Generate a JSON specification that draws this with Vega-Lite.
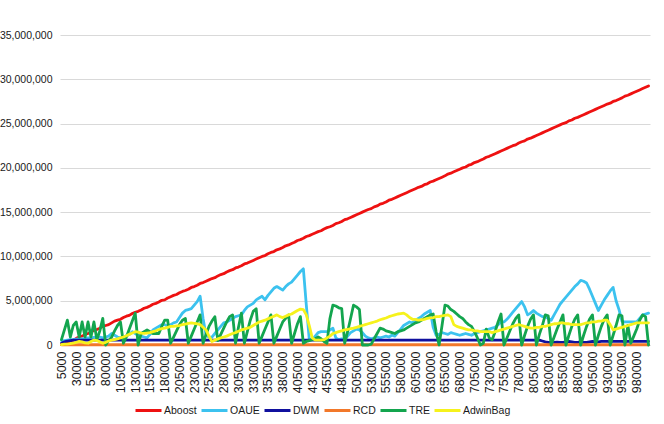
{
  "$schema": "https://vega.github.io/schema/vega-lite/v6.json",
  "width": 590,
  "height": 310,
  "autosize": {"type": "none"},
  "padding": {"left": 60, "top": 35, "right": 14, "bottom": 79},
  "background": "white",
  "config": {
    "view": {"stroke": null},
    "font": "Liberation Sans"
  },
  "data": {
    "values": [
      {"n":5000,"Aboost":0.05,"OAUE":0.5,"DWM":0.2,"RCD":0.03,"TRE":0.6,"AdwinBag":0.05},
      {"n":10000,"Aboost":0.2,"OAUE":0.5,"DWM":0.35,"RCD":0.03,"TRE":1.7,"AdwinBag":0.1},
      {"n":15000,"Aboost":0.3,"OAUE":0.55,"DWM":0.45,"RCD":0.03,"TRE":2.8,"AdwinBag":0.1},
      {"n":20000,"Aboost":0.45,"OAUE":0.6,"DWM":0.5,"RCD":0.03,"TRE":0.9,"AdwinBag":0.15},
      {"n":25000,"Aboost":0.55,"OAUE":0.6,"DWM":0.55,"RCD":0.03,"TRE":2.2,"AdwinBag":0.2},
      {"n":30000,"Aboost":0.75,"OAUE":0.65,"DWM":0.55,"RCD":0.03,"TRE":2.6,"AdwinBag":0.3},
      {"n":35000,"Aboost":0.9,"OAUE":0.7,"DWM":0.55,"RCD":0.03,"TRE":0.9,"AdwinBag":0.4},
      {"n":40000,"Aboost":1.0,"OAUE":0.7,"DWM":0.55,"RCD":0.03,"TRE":2.6,"AdwinBag":0.35},
      {"n":45000,"Aboost":1.2,"OAUE":0.75,"DWM":0.55,"RCD":0.03,"TRE":0.9,"AdwinBag":0.25},
      {"n":50000,"Aboost":1.3,"OAUE":0.8,"DWM":0.55,"RCD":0.03,"TRE":2.6,"AdwinBag":0.2},
      {"n":55000,"Aboost":1.45,"OAUE":0.8,"DWM":0.55,"RCD":0.03,"TRE":0.9,"AdwinBag":0.4},
      {"n":60000,"Aboost":1.65,"OAUE":0.85,"DWM":0.55,"RCD":0.03,"TRE":2.6,"AdwinBag":0.55},
      {"n":65000,"Aboost":1.75,"OAUE":0.9,"DWM":0.55,"RCD":0.03,"TRE":0.6,"AdwinBag":0.5},
      {"n":70000,"Aboost":1.9,"OAUE":0.9,"DWM":0.55,"RCD":0.03,"TRE":1.6,"AdwinBag":0.35},
      {"n":75000,"Aboost":2.1,"OAUE":0.8,"DWM":0.55,"RCD":0.03,"TRE":3.0,"AdwinBag":0.2},
      {"n":80000,"Aboost":2.2,"OAUE":0.9,"DWM":0.55,"RCD":0.03,"TRE":0,"AdwinBag":0.3},
      {"n":85000,"Aboost":2.3,"OAUE":1.0,"DWM":0.55,"RCD":0.03,"TRE":0.5,"AdwinBag":0.45},
      {"n":90000,"Aboost":2.5,"OAUE":1.3,"DWM":0.55,"RCD":0.03,"TRE":0.9,"AdwinBag":0.55},
      {"n":95000,"Aboost":2.7,"OAUE":1.1,"DWM":0.55,"RCD":0.03,"TRE":1.6,"AdwinBag":0.6},
      {"n":100000,"Aboost":2.8,"OAUE":0.9,"DWM":0.55,"RCD":0.03,"TRE":2.2,"AdwinBag":0.7},
      {"n":105000,"Aboost":2.9,"OAUE":0.8,"DWM":0.55,"RCD":0.03,"TRE":2.6,"AdwinBag":0.8},
      {"n":110000,"Aboost":3.1,"OAUE":0.9,"DWM":0.55,"RCD":0.03,"TRE":0.2,"AdwinBag":0.9},
      {"n":115000,"Aboost":3.25,"OAUE":1.0,"DWM":0.55,"RCD":0.03,"TRE":0.9,"AdwinBag":1.05},
      {"n":120000,"Aboost":3.35,"OAUE":1.2,"DWM":0.55,"RCD":0.03,"TRE":1.8,"AdwinBag":1.2},
      {"n":125000,"Aboost":3.55,"OAUE":1.5,"DWM":0.55,"RCD":0.03,"TRE":2.7,"AdwinBag":1.35},
      {"n":130000,"Aboost":3.7,"OAUE":1.3,"DWM":0.55,"RCD":0.03,"TRE":3.6,"AdwinBag":1.5},
      {"n":135000,"Aboost":3.8,"OAUE":1.1,"DWM":0.55,"RCD":0.03,"TRE":0,"AdwinBag":1.45},
      {"n":140000,"Aboost":3.95,"OAUE":1.0,"DWM":0.55,"RCD":0.03,"TRE":1.3,"AdwinBag":1.35},
      {"n":145000,"Aboost":4.15,"OAUE":0.9,"DWM":0.55,"RCD":0.03,"TRE":1.5,"AdwinBag":1.3},
      {"n":150000,"Aboost":4.25,"OAUE":0.8,"DWM":0.55,"RCD":0.03,"TRE":1.7,"AdwinBag":1.35},
      {"n":155000,"Aboost":4.4,"OAUE":1.2,"DWM":0.55,"RCD":0.03,"TRE":1.5,"AdwinBag":1.4},
      {"n":160000,"Aboost":4.6,"OAUE":1.7,"DWM":0.55,"RCD":0.03,"TRE":1.3,"AdwinBag":1.5},
      {"n":165000,"Aboost":4.7,"OAUE":1.9,"DWM":0.55,"RCD":0.03,"TRE":1.3,"AdwinBag":1.6},
      {"n":170000,"Aboost":4.85,"OAUE":2.1,"DWM":0.55,"RCD":0.03,"TRE":1.3,"AdwinBag":1.75},
      {"n":175000,"Aboost":5.05,"OAUE":2.3,"DWM":0.55,"RCD":0.03,"TRE":2.1,"AdwinBag":1.85},
      {"n":180000,"Aboost":5.1,"OAUE":2.3,"DWM":0.55,"RCD":0.03,"TRE":2.8,"AdwinBag":1.9},
      {"n":185000,"Aboost":5.3,"OAUE":2.1,"DWM":0.55,"RCD":0.03,"TRE":2.8,"AdwinBag":2.0},
      {"n":190000,"Aboost":5.45,"OAUE":2.3,"DWM":0.55,"RCD":0.03,"TRE":0.2,"AdwinBag":2.1},
      {"n":195000,"Aboost":5.6,"OAUE":2.5,"DWM":0.55,"RCD":0.03,"TRE":0.9,"AdwinBag":2.1},
      {"n":200000,"Aboost":5.7,"OAUE":2.6,"DWM":0.55,"RCD":0.03,"TRE":1.6,"AdwinBag":2.15},
      {"n":205000,"Aboost":5.9,"OAUE":3.1,"DWM":0.55,"RCD":0.03,"TRE":2.3,"AdwinBag":2.2},
      {"n":210000,"Aboost":6.05,"OAUE":3.6,"DWM":0.55,"RCD":0.03,"TRE":2.8,"AdwinBag":2.3},
      {"n":215000,"Aboost":6.15,"OAUE":3.9,"DWM":0.55,"RCD":0.03,"TRE":3.0,"AdwinBag":2.35},
      {"n":220000,"Aboost":6.3,"OAUE":4.0,"DWM":0.55,"RCD":0.03,"TRE":0.2,"AdwinBag":2.45},
      {"n":225000,"Aboost":6.5,"OAUE":4.1,"DWM":0.55,"RCD":0.03,"TRE":1.0,"AdwinBag":2.5},
      {"n":230000,"Aboost":6.6,"OAUE":4.5,"DWM":0.55,"RCD":0.03,"TRE":1.8,"AdwinBag":2.45},
      {"n":235000,"Aboost":6.75,"OAUE":4.9,"DWM":0.55,"RCD":0.03,"TRE":2.6,"AdwinBag":2.4},
      {"n":240000,"Aboost":6.95,"OAUE":5.5,"DWM":0.55,"RCD":0.03,"TRE":3.4,"AdwinBag":2.3},
      {"n":245000,"Aboost":7.05,"OAUE":3.0,"DWM":0.55,"RCD":0.03,"TRE":0.2,"AdwinBag":2.0},
      {"n":250000,"Aboost":7.2,"OAUE":1.1,"DWM":0.55,"RCD":0.03,"TRE":1.2,"AdwinBag":1.7},
      {"n":255000,"Aboost":7.35,"OAUE":0.9,"DWM":0.55,"RCD":0.03,"TRE":2.1,"AdwinBag":1.0},
      {"n":260000,"Aboost":7.5,"OAUE":0.9,"DWM":0.55,"RCD":0.03,"TRE":2.7,"AdwinBag":0.4},
      {"n":265000,"Aboost":7.6,"OAUE":1.3,"DWM":0.55,"RCD":0.03,"TRE":3.2,"AdwinBag":0.55},
      {"n":270000,"Aboost":7.8,"OAUE":1.7,"DWM":0.55,"RCD":0.03,"TRE":0.5,"AdwinBag":0.7},
      {"n":275000,"Aboost":7.95,"OAUE":2.1,"DWM":0.55,"RCD":0.03,"TRE":1.2,"AdwinBag":0.8},
      {"n":280000,"Aboost":8.05,"OAUE":2.5,"DWM":0.55,"RCD":0.03,"TRE":1.9,"AdwinBag":0.9},
      {"n":285000,"Aboost":8.25,"OAUE":2.6,"DWM":0.55,"RCD":0.03,"TRE":2.6,"AdwinBag":1.0},
      {"n":290000,"Aboost":8.4,"OAUE":2.8,"DWM":0.55,"RCD":0.03,"TRE":3.2,"AdwinBag":1.15},
      {"n":295000,"Aboost":8.5,"OAUE":3.0,"DWM":0.55,"RCD":0.03,"TRE":3.4,"AdwinBag":1.3},
      {"n":300000,"Aboost":8.7,"OAUE":3.2,"DWM":0.55,"RCD":0.03,"TRE":0.2,"AdwinBag":1.4},
      {"n":305000,"Aboost":8.8,"OAUE":3.3,"DWM":0.55,"RCD":0.03,"TRE":2.0,"AdwinBag":1.55},
      {"n":310000,"Aboost":8.95,"OAUE":3.4,"DWM":0.55,"RCD":0.03,"TRE":3.6,"AdwinBag":1.7},
      {"n":315000,"Aboost":9.15,"OAUE":3.9,"DWM":0.55,"RCD":0.03,"TRE":0.2,"AdwinBag":1.8},
      {"n":320000,"Aboost":9.25,"OAUE":4.3,"DWM":0.55,"RCD":0.03,"TRE":1.5,"AdwinBag":1.9},
      {"n":325000,"Aboost":9.4,"OAUE":4.5,"DWM":0.55,"RCD":0.03,"TRE":2.8,"AdwinBag":2.0},
      {"n":330000,"Aboost":9.55,"OAUE":4.7,"DWM":0.55,"RCD":0.03,"TRE":3.8,"AdwinBag":2.2},
      {"n":335000,"Aboost":9.7,"OAUE":5.1,"DWM":0.55,"RCD":0.03,"TRE":4.1,"AdwinBag":2.4},
      {"n":340000,"Aboost":9.85,"OAUE":5.3,"DWM":0.55,"RCD":0.03,"TRE":0.2,"AdwinBag":2.6},
      {"n":345000,"Aboost":10.0,"OAUE":5.5,"DWM":0.55,"RCD":0.03,"TRE":1.0,"AdwinBag":2.7},
      {"n":350000,"Aboost":10.1,"OAUE":5.1,"DWM":0.55,"RCD":0.03,"TRE":1.8,"AdwinBag":2.8},
      {"n":355000,"Aboost":10.3,"OAUE":5.6,"DWM":0.55,"RCD":0.03,"TRE":2.6,"AdwinBag":2.95},
      {"n":360000,"Aboost":10.45,"OAUE":6.0,"DWM":0.55,"RCD":0.03,"TRE":3.4,"AdwinBag":3.1},
      {"n":365000,"Aboost":10.55,"OAUE":6.4,"DWM":0.55,"RCD":0.03,"TRE":0.2,"AdwinBag":3.25},
      {"n":370000,"Aboost":10.75,"OAUE":6.6,"DWM":0.55,"RCD":0.03,"TRE":1.0,"AdwinBag":3.4},
      {"n":375000,"Aboost":10.85,"OAUE":6.4,"DWM":0.55,"RCD":0.03,"TRE":1.8,"AdwinBag":3.2},
      {"n":380000,"Aboost":11.0,"OAUE":6.2,"DWM":0.55,"RCD":0.03,"TRE":2.6,"AdwinBag":3.1},
      {"n":385000,"Aboost":11.2,"OAUE":6.6,"DWM":0.55,"RCD":0.03,"TRE":3.0,"AdwinBag":3.25},
      {"n":390000,"Aboost":11.3,"OAUE":6.9,"DWM":0.55,"RCD":0.03,"TRE":3.4,"AdwinBag":3.4},
      {"n":395000,"Aboost":11.45,"OAUE":7.1,"DWM":0.55,"RCD":0.03,"TRE":0.2,"AdwinBag":3.5},
      {"n":400000,"Aboost":11.6,"OAUE":7.5,"DWM":0.55,"RCD":0.03,"TRE":1.3,"AdwinBag":3.7},
      {"n":405000,"Aboost":11.8,"OAUE":7.9,"DWM":0.55,"RCD":0.03,"TRE":2.4,"AdwinBag":3.9},
      {"n":410000,"Aboost":11.9,"OAUE":8.3,"DWM":0.55,"RCD":0.03,"TRE":3.2,"AdwinBag":4.05},
      {"n":415000,"Aboost":12.05,"OAUE":8.6,"DWM":0.55,"RCD":0.03,"TRE":0.2,"AdwinBag":4.0},
      {"n":420000,"Aboost":12.25,"OAUE":4.5,"DWM":0.55,"RCD":0.03,"TRE":0.4,"AdwinBag":3.4},
      {"n":425000,"Aboost":12.35,"OAUE":0.6,"DWM":0.55,"RCD":0.03,"TRE":0.5,"AdwinBag":2.2},
      {"n":430000,"Aboost":12.5,"OAUE":0.6,"DWM":0.55,"RCD":0.03,"TRE":0.6,"AdwinBag":0.8},
      {"n":435000,"Aboost":12.65,"OAUE":1.0,"DWM":0.55,"RCD":0.03,"TRE":0.7,"AdwinBag":0.56},
      {"n":440000,"Aboost":12.8,"OAUE":1.4,"DWM":0.55,"RCD":0.03,"TRE":0.9,"AdwinBag":0.55},
      {"n":445000,"Aboost":12.9,"OAUE":1.5,"DWM":0.55,"RCD":0.03,"TRE":0.7,"AdwinBag":0.55},
      {"n":450000,"Aboost":13.1,"OAUE":1.5,"DWM":0.55,"RCD":0.03,"TRE":0.4,"AdwinBag":0.6},
      {"n":455000,"Aboost":13.25,"OAUE":1.5,"DWM":0.55,"RCD":0.03,"TRE":0.2,"AdwinBag":0.8},
      {"n":460000,"Aboost":13.35,"OAUE":1.7,"DWM":0.55,"RCD":0.03,"TRE":3.0,"AdwinBag":1.0},
      {"n":465000,"Aboost":13.5,"OAUE":1.9,"DWM":0.55,"RCD":0.03,"TRE":4.5,"AdwinBag":1.3},
      {"n":470000,"Aboost":13.7,"OAUE":0.8,"DWM":0.55,"RCD":0.03,"TRE":4.4,"AdwinBag":1.4},
      {"n":475000,"Aboost":13.8,"OAUE":0.6,"DWM":0.55,"RCD":0.03,"TRE":4.2,"AdwinBag":1.5},
      {"n":480000,"Aboost":13.95,"OAUE":0.7,"DWM":0.55,"RCD":0.03,"TRE":4.1,"AdwinBag":1.6},
      {"n":485000,"Aboost":14.15,"OAUE":0.6,"DWM":0.55,"RCD":0.03,"TRE":0.2,"AdwinBag":1.7},
      {"n":490000,"Aboost":14.25,"OAUE":1.0,"DWM":0.55,"RCD":0.03,"TRE":1.5,"AdwinBag":1.75},
      {"n":495000,"Aboost":14.4,"OAUE":1.4,"DWM":0.55,"RCD":0.03,"TRE":3.0,"AdwinBag":1.85},
      {"n":500000,"Aboost":14.55,"OAUE":1.6,"DWM":0.55,"RCD":0.03,"TRE":4.5,"AdwinBag":1.9},
      {"n":505000,"Aboost":14.7,"OAUE":1.8,"DWM":0.55,"RCD":0.03,"TRE":4.3,"AdwinBag":2.0},
      {"n":510000,"Aboost":14.85,"OAUE":1.7,"DWM":0.55,"RCD":0.03,"TRE":4.0,"AdwinBag":2.1},
      {"n":515000,"Aboost":15.0,"OAUE":1.4,"DWM":0.55,"RCD":0.03,"TRE":0,"AdwinBag":2.2},
      {"n":520000,"Aboost":15.15,"OAUE":1.0,"DWM":0.55,"RCD":0.03,"TRE":0,"AdwinBag":2.3},
      {"n":525000,"Aboost":15.3,"OAUE":0.8,"DWM":0.55,"RCD":0.03,"TRE":0,"AdwinBag":2.4},
      {"n":530000,"Aboost":15.4,"OAUE":0.7,"DWM":0.55,"RCD":0.03,"TRE":0.1,"AdwinBag":2.5},
      {"n":535000,"Aboost":15.6,"OAUE":0.8,"DWM":0.55,"RCD":0.03,"TRE":0.7,"AdwinBag":2.6},
      {"n":540000,"Aboost":15.7,"OAUE":0.9,"DWM":0.55,"RCD":0.03,"TRE":1.3,"AdwinBag":2.7},
      {"n":545000,"Aboost":15.9,"OAUE":0.8,"DWM":0.55,"RCD":0.03,"TRE":1.9,"AdwinBag":2.85},
      {"n":550000,"Aboost":16.0,"OAUE":0.9,"DWM":0.55,"RCD":0.03,"TRE":1.8,"AdwinBag":2.95},
      {"n":555000,"Aboost":16.15,"OAUE":1.0,"DWM":0.55,"RCD":0.03,"TRE":1.6,"AdwinBag":3.05},
      {"n":560000,"Aboost":16.35,"OAUE":0.9,"DWM":0.55,"RCD":0.03,"TRE":1.5,"AdwinBag":3.2},
      {"n":565000,"Aboost":16.45,"OAUE":1.1,"DWM":0.55,"RCD":0.03,"TRE":1.4,"AdwinBag":3.3},
      {"n":570000,"Aboost":16.6,"OAUE":1.0,"DWM":0.55,"RCD":0.03,"TRE":1.3,"AdwinBag":3.4},
      {"n":575000,"Aboost":16.75,"OAUE":1.4,"DWM":0.55,"RCD":0.03,"TRE":1.5,"AdwinBag":3.5},
      {"n":580000,"Aboost":16.9,"OAUE":1.8,"DWM":0.55,"RCD":0.03,"TRE":1.6,"AdwinBag":3.55},
      {"n":585000,"Aboost":17.05,"OAUE":2.2,"DWM":0.55,"RCD":0.03,"TRE":1.7,"AdwinBag":3.6},
      {"n":590000,"Aboost":17.2,"OAUE":2.4,"DWM":0.55,"RCD":0.03,"TRE":1.9,"AdwinBag":3.4},
      {"n":595000,"Aboost":17.35,"OAUE":2.6,"DWM":0.55,"RCD":0.03,"TRE":2.1,"AdwinBag":3.1},
      {"n":600000,"Aboost":17.5,"OAUE":2.5,"DWM":0.55,"RCD":0.03,"TRE":2.3,"AdwinBag":2.9},
      {"n":605000,"Aboost":17.65,"OAUE":2.8,"DWM":0.55,"RCD":0.03,"TRE":2.5,"AdwinBag":2.9},
      {"n":610000,"Aboost":17.8,"OAUE":3.0,"DWM":0.55,"RCD":0.03,"TRE":2.6,"AdwinBag":2.8},
      {"n":615000,"Aboost":17.9,"OAUE":3.2,"DWM":0.55,"RCD":0.03,"TRE":2.8,"AdwinBag":2.85},
      {"n":620000,"Aboost":18.1,"OAUE":3.5,"DWM":0.55,"RCD":0.03,"TRE":3.0,"AdwinBag":2.9},
      {"n":625000,"Aboost":18.2,"OAUE":3.7,"DWM":0.55,"RCD":0.03,"TRE":3.2,"AdwinBag":3.0},
      {"n":630000,"Aboost":18.4,"OAUE":3.9,"DWM":0.55,"RCD":0.03,"TRE":3.4,"AdwinBag":3.05},
      {"n":635000,"Aboost":18.5,"OAUE":2.0,"DWM":0.55,"RCD":0.03,"TRE":3.5,"AdwinBag":3.1},
      {"n":640000,"Aboost":18.65,"OAUE":1.1,"DWM":0.55,"RCD":0.03,"TRE":1.5,"AdwinBag":3.2},
      {"n":645000,"Aboost":18.8,"OAUE":1.2,"DWM":0.55,"RCD":0.03,"TRE":0,"AdwinBag":3.2},
      {"n":650000,"Aboost":18.95,"OAUE":1.4,"DWM":0.55,"RCD":0.03,"TRE":2.2,"AdwinBag":3.3},
      {"n":655000,"Aboost":19.1,"OAUE":1.3,"DWM":0.55,"RCD":0.03,"TRE":4.5,"AdwinBag":3.35},
      {"n":660000,"Aboost":19.3,"OAUE":1.2,"DWM":0.55,"RCD":0.03,"TRE":4.4,"AdwinBag":3.4},
      {"n":665000,"Aboost":19.4,"OAUE":1.4,"DWM":0.55,"RCD":0.03,"TRE":4.0,"AdwinBag":3.2},
      {"n":670000,"Aboost":19.55,"OAUE":1.3,"DWM":0.55,"RCD":0.03,"TRE":3.8,"AdwinBag":2.3},
      {"n":675000,"Aboost":19.7,"OAUE":1.2,"DWM":0.55,"RCD":0.03,"TRE":3.5,"AdwinBag":2.1},
      {"n":680000,"Aboost":19.85,"OAUE":1.1,"DWM":0.55,"RCD":0.03,"TRE":3.2,"AdwinBag":2.0},
      {"n":685000,"Aboost":20.0,"OAUE":1.2,"DWM":0.55,"RCD":0.03,"TRE":3.0,"AdwinBag":1.9},
      {"n":690000,"Aboost":20.1,"OAUE":1.3,"DWM":0.55,"RCD":0.03,"TRE":2.6,"AdwinBag":1.8},
      {"n":695000,"Aboost":20.3,"OAUE":1.2,"DWM":0.55,"RCD":0.03,"TRE":2.3,"AdwinBag":1.7},
      {"n":700000,"Aboost":20.4,"OAUE":1.1,"DWM":0.55,"RCD":0.03,"TRE":2.1,"AdwinBag":1.7},
      {"n":705000,"Aboost":20.6,"OAUE":1.3,"DWM":0.55,"RCD":0.03,"TRE":1.5,"AdwinBag":1.6},
      {"n":710000,"Aboost":20.7,"OAUE":1.4,"DWM":0.55,"RCD":0.03,"TRE":0.8,"AdwinBag":1.6},
      {"n":715000,"Aboost":20.85,"OAUE":1.5,"DWM":0.55,"RCD":0.03,"TRE":0,"AdwinBag":1.5},
      {"n":720000,"Aboost":21.0,"OAUE":1.6,"DWM":0.55,"RCD":0.03,"TRE":0.2,"AdwinBag":1.5},
      {"n":725000,"Aboost":21.2,"OAUE":1.7,"DWM":0.55,"RCD":0.03,"TRE":1.8,"AdwinBag":1.5},
      {"n":730000,"Aboost":21.3,"OAUE":1.8,"DWM":0.55,"RCD":0.03,"TRE":0.8,"AdwinBag":1.5},
      {"n":735000,"Aboost":21.45,"OAUE":1.9,"DWM":0.55,"RCD":0.03,"TRE":0.6,"AdwinBag":1.4},
      {"n":740000,"Aboost":21.6,"OAUE":2.0,"DWM":0.55,"RCD":0.03,"TRE":1.5,"AdwinBag":1.5},
      {"n":745000,"Aboost":21.75,"OAUE":2.3,"DWM":0.55,"RCD":0.03,"TRE":2.6,"AdwinBag":1.6},
      {"n":750000,"Aboost":21.9,"OAUE":2.6,"DWM":0.55,"RCD":0.03,"TRE":3.5,"AdwinBag":1.7},
      {"n":755000,"Aboost":22.05,"OAUE":2.6,"DWM":0.55,"RCD":0.03,"TRE":0,"AdwinBag":1.8},
      {"n":760000,"Aboost":22.2,"OAUE":2.9,"DWM":0.55,"RCD":0.03,"TRE":0.8,"AdwinBag":1.9},
      {"n":765000,"Aboost":22.35,"OAUE":3.3,"DWM":0.55,"RCD":0.03,"TRE":1.6,"AdwinBag":2.0},
      {"n":770000,"Aboost":22.5,"OAUE":3.7,"DWM":0.55,"RCD":0.03,"TRE":2.4,"AdwinBag":2.1},
      {"n":775000,"Aboost":22.6,"OAUE":4.1,"DWM":0.55,"RCD":0.03,"TRE":3.0,"AdwinBag":2.2},
      {"n":780000,"Aboost":22.8,"OAUE":4.5,"DWM":0.55,"RCD":0.03,"TRE":3.4,"AdwinBag":2.3},
      {"n":785000,"Aboost":22.95,"OAUE":4.9,"DWM":0.55,"RCD":0.03,"TRE":0,"AdwinBag":2.2},
      {"n":790000,"Aboost":23.05,"OAUE":4.3,"DWM":0.55,"RCD":0.03,"TRE":1.1,"AdwinBag":2.1},
      {"n":795000,"Aboost":23.25,"OAUE":3.4,"DWM":0.55,"RCD":0.03,"TRE":2.1,"AdwinBag":2.0},
      {"n":800000,"Aboost":23.35,"OAUE":3.6,"DWM":0.55,"RCD":0.03,"TRE":2.9,"AdwinBag":1.9},
      {"n":805000,"Aboost":23.5,"OAUE":3.9,"DWM":0.55,"RCD":0.03,"TRE":3.4,"AdwinBag":1.9},
      {"n":810000,"Aboost":23.65,"OAUE":3.6,"DWM":0.55,"RCD":0.03,"TRE":0,"AdwinBag":2.0},
      {"n":815000,"Aboost":23.8,"OAUE":3.4,"DWM":0.55,"RCD":0.03,"TRE":1.2,"AdwinBag":2.0},
      {"n":820000,"Aboost":23.95,"OAUE":3.2,"DWM":0.45,"RCD":0.03,"TRE":2.2,"AdwinBag":2.1},
      {"n":825000,"Aboost":24.1,"OAUE":3.2,"DWM":0.35,"RCD":0.03,"TRE":3.4,"AdwinBag":2.1},
      {"n":830000,"Aboost":24.25,"OAUE":3.0,"DWM":0.3,"RCD":0.03,"TRE":3.3,"AdwinBag":2.2},
      {"n":835000,"Aboost":24.4,"OAUE":2.8,"DWM":0.3,"RCD":0.03,"TRE":0,"AdwinBag":2.3},
      {"n":840000,"Aboost":24.55,"OAUE":3.4,"DWM":0.3,"RCD":0.03,"TRE":0.9,"AdwinBag":2.4},
      {"n":845000,"Aboost":24.7,"OAUE":4.0,"DWM":0.32,"RCD":0.03,"TRE":1.8,"AdwinBag":2.4},
      {"n":850000,"Aboost":24.85,"OAUE":4.6,"DWM":0.3,"RCD":0.03,"TRE":2.6,"AdwinBag":2.5},
      {"n":855000,"Aboost":25.0,"OAUE":5.0,"DWM":0.3,"RCD":0.03,"TRE":3.4,"AdwinBag":2.5},
      {"n":860000,"Aboost":25.1,"OAUE":5.4,"DWM":0.35,"RCD":0.03,"TRE":0,"AdwinBag":2.4},
      {"n":865000,"Aboost":25.3,"OAUE":5.8,"DWM":0.4,"RCD":0.03,"TRE":1.1,"AdwinBag":2.4},
      {"n":870000,"Aboost":25.4,"OAUE":6.2,"DWM":0.35,"RCD":0.03,"TRE":2.1,"AdwinBag":2.3},
      {"n":875000,"Aboost":25.6,"OAUE":6.6,"DWM":0.3,"RCD":0.03,"TRE":2.9,"AdwinBag":2.3},
      {"n":880000,"Aboost":25.7,"OAUE":6.9,"DWM":0.3,"RCD":0.03,"TRE":3.4,"AdwinBag":2.3},
      {"n":885000,"Aboost":25.85,"OAUE":7.3,"DWM":0.35,"RCD":0.03,"TRE":0,"AdwinBag":2.3},
      {"n":890000,"Aboost":26.0,"OAUE":7.2,"DWM":0.3,"RCD":0.03,"TRE":1.1,"AdwinBag":2.4},
      {"n":895000,"Aboost":26.15,"OAUE":7.0,"DWM":0.3,"RCD":0.03,"TRE":2.1,"AdwinBag":2.5},
      {"n":900000,"Aboost":26.3,"OAUE":6.3,"DWM":0.35,"RCD":0.03,"TRE":2.9,"AdwinBag":2.5},
      {"n":905000,"Aboost":26.45,"OAUE":5.5,"DWM":0.4,"RCD":0.03,"TRE":3.4,"AdwinBag":2.6},
      {"n":910000,"Aboost":26.6,"OAUE":4.7,"DWM":0.38,"RCD":0.03,"TRE":0,"AdwinBag":2.6},
      {"n":915000,"Aboost":26.75,"OAUE":3.9,"DWM":0.35,"RCD":0.03,"TRE":1.1,"AdwinBag":2.7},
      {"n":920000,"Aboost":26.9,"OAUE":4.5,"DWM":0.4,"RCD":0.03,"TRE":2.1,"AdwinBag":2.7},
      {"n":925000,"Aboost":27.05,"OAUE":5.1,"DWM":0.42,"RCD":0.03,"TRE":2.9,"AdwinBag":2.8},
      {"n":930000,"Aboost":27.2,"OAUE":5.6,"DWM":0.4,"RCD":0.03,"TRE":3.4,"AdwinBag":2.8},
      {"n":935000,"Aboost":27.3,"OAUE":6.1,"DWM":0.38,"RCD":0.03,"TRE":0,"AdwinBag":2.3},
      {"n":940000,"Aboost":27.5,"OAUE":6.5,"DWM":0.4,"RCD":0.03,"TRE":1.1,"AdwinBag":1.7},
      {"n":945000,"Aboost":27.6,"OAUE":5.0,"DWM":0.42,"RCD":0.03,"TRE":2.2,"AdwinBag":1.8},
      {"n":950000,"Aboost":27.75,"OAUE":4.0,"DWM":0.4,"RCD":0.03,"TRE":3.4,"AdwinBag":1.9},
      {"n":955000,"Aboost":27.9,"OAUE":2.7,"DWM":0.4,"RCD":0.03,"TRE":3.3,"AdwinBag":2.0},
      {"n":960000,"Aboost":28.1,"OAUE":2.6,"DWM":0.38,"RCD":0.03,"TRE":0,"AdwinBag":2.1},
      {"n":965000,"Aboost":28.2,"OAUE":2.6,"DWM":0.4,"RCD":0.03,"TRE":2.2,"AdwinBag":2.2},
      {"n":970000,"Aboost":28.35,"OAUE":2.6,"DWM":0.42,"RCD":0.03,"TRE":0.2,"AdwinBag":2.3},
      {"n":975000,"Aboost":28.5,"OAUE":2.6,"DWM":0.4,"RCD":0.03,"TRE":1.0,"AdwinBag":2.4},
      {"n":980000,"Aboost":28.65,"OAUE":2.6,"DWM":0.4,"RCD":0.03,"TRE":1.8,"AdwinBag":2.5},
      {"n":985000,"Aboost":28.8,"OAUE":3.0,"DWM":0.42,"RCD":0.03,"TRE":2.8,"AdwinBag":2.5},
      {"n":990000,"Aboost":28.95,"OAUE":3.4,"DWM":0.4,"RCD":0.03,"TRE":3.4,"AdwinBag":2.5},
      {"n":995000,"Aboost":29.1,"OAUE":3.5,"DWM":0.4,"RCD":0.03,"TRE":3.2,"AdwinBag":2.5},
      {"n":1000000,"Aboost":29.25,"OAUE":3.6,"DWM":0.42,"RCD":0.03,"TRE":0,"AdwinBag":2.5}
    ]
  },
  "transform": [
    {"fold": ["Aboost", "OAUE", "DWM", "RCD", "TRE", "AdwinBag"], "as": ["series", "value"]}
  ],
  "mark": {"type": "line", "strokeWidth": 2.8, "strokeJoin": "round", "strokeCap": "round"},
  "encoding": {
    "x": {
      "field": "n",
      "type": "quantitative",
      "scale": {"domain": [2500, 1002500], "nice": false, "zero": false},
      "axis": {
        "title": null,
        "values": [5000, 30000, 55000, 80000, 105000, 130000, 155000, 180000, 205000, 230000, 255000, 280000, 305000, 330000, 355000, 380000, 405000, 430000, 455000, 480000, 505000, 530000, 555000, 580000, 605000, 630000, 655000, 680000, 705000, 730000, 755000, 780000, 805000, 830000, 855000, 880000, 905000, 930000, 955000, 980000],
        "format": "d",
        "labelAngle": -90,
        "labelFont": "Liberation Sans",
        "labelFontSize": 12.5,
        "labelColor": "#1a1a1a",
        "labelPadding": 6,
        "labelOverlap": false,
        "labelFlush": false,
        "grid": false,
        "ticks": false,
        "domain": true,
        "domainColor": "#d9d9d9",
        "domainWidth": 1
      }
    },
    "y": {
      "field": "value",
      "type": "quantitative",
      "scale": {"domain": [0, 35], "nice": false},
      "axis": {
        "title": null,
        "values": [0, 5, 10, 15, 20, 25, 30, 35],
        "labelExpr": "format(datum.value * 1000000, ',')",
        "labelFont": "Liberation Sans",
        "labelFontSize": 10.5,
        "labelColor": "#1a1a1a",
        "labelPadding": 8,
        "grid": true,
        "gridColor": "#d9d9d9",
        "gridWidth": 1,
        "ticks": false,
        "domain": false
      }
    },
    "color": {
      "field": "series",
      "type": "nominal",
      "scale": {
        "domain": ["Aboost", "OAUE", "DWM", "RCD", "TRE", "AdwinBag"],
        "range": ["#ee1111", "#3cc2ef", "#10109e", "#f2782a", "#13a54e", "#f6f21c"]
      },
      "legend": {
        "title": null,
        "orient": "none",
        "legendX": 74,
        "legendY": 361,
        "direction": "horizontal",
        "columns": 6,
        "gridAlign": "none",
        "symbolType": "stroke",
        "symbolSize": 676,
        "symbolStrokeWidth": 3,
        "labelFont": "Liberation Sans",
        "labelFontSize": 10.5,
        "labelColor": "#1a1a1a",
        "labelOffset": 1,
        "columnPadding": -2,
        "padding": 0
      }
    }
  }
}
